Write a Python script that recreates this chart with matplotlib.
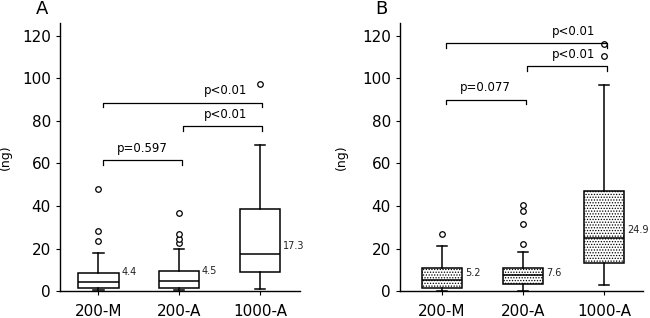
import matplotlib
matplotlib.use("Agg")
import matplotlib.pyplot as plt

plt.rcParams['font.family'] = ['DejaVu Sans']
plt.rcParams['hatch.linewidth'] = 0.6
plt.rcParams['hatch.color'] = '#555555'

groups = ['200-M', '200-A', '1000-A']

# panel A
a_whislo = [0.5, 0.5, 0.8]
a_q1 = [1.4, 1.5, 8.8]
a_med = [4.2, 4.5, 17.2]
a_q3 = [8.5, 9.3, 38.4]
a_whishi = [17.9, 19.7, 68.9]
a_fliers = [[23.6, 28.3, 47.8], [22.5, 24.7, 27.0, 36.5], [97.5]]
a_labels = ['4.4', '4.5', '17.3']

# panel B
b_whislo = [0.0, 0.0, 2.7]
b_q1 = [1.4, 3.5, 13.0]
b_med = [5.4, 7.7, 24.8]
b_q3 = [10.6, 10.6, 47.2]
b_whishi = [21.2, 18.4, 97.1]
b_fliers = [[26.6], [22.0, 31.5, 37.7, 40.4], [110.4, 116.2]]
b_labels = ['5.2', '7.6', '24.9']

a_tests = [('p=0.597', 1, 2), ('p<0.01', 2, 3), ('p<0.01', 1, 3)]
b_tests = [('p=0.077', 1, 2), ('p<0.01', 2, 3), ('p<0.01', 1, 3)]


def panel(ax, whislo, q1, med, q3, whishi, fliers, labels, tests,
          label_y, bracket_y, text_x, hatch, xlim, letter, ylab_x):
    stats = []
    for i in range(3):
        stats.append(dict(whislo=whislo[i], q1=q1[i], med=med[i], q3=q3[i],
                          whishi=whishi[i], fliers=fliers[i]))
    pos = [1, 2, 3]
    ax.bxp(stats, positions=pos, widths=0.5, capwidths=0.13,
           patch_artist=True,
           boxprops=dict(facecolor='white', edgecolor='black', linewidth=1.1,
                         hatch=hatch),
           medianprops=dict(color='black', linewidth=1.1),
           whiskerprops=dict(color='black', linewidth=1.1),
           capprops=dict(color='black', linewidth=1.1),
           flierprops=dict(marker='o', markersize=4, markerfacecolor='white',
                           markeredgecolor='black', markeredgewidth=0.9))
    for i in range(3):
        ax.text(pos[i] + 0.28, label_y[i], labels[i], fontsize=7,
                va='center', ha='left', color='#222222')
    for k, (txt, g1, g2) in enumerate(tests):
        y = bracket_y[k]
        x1 = g1 + 0.05
        x2 = g2 + 0.03
        ax.plot([x1, x1, x2, x2], [y - 2.2, y, y, y - 2.2], color='black', lw=0.9)
        tx = text_x[k] if text_x[k] is not None else (x1 + x2) / 2
        ax.text(tx, y + 2.5, txt, fontsize=8.5, ha='center', va='bottom')
    ax.set_xlim(*xlim)
    ax.set_ylim(0, 126)
    ax.set_yticks([0, 20, 40, 60, 80, 100, 120])
    ax.set_xticks(pos)
    ax.set_xticklabels(groups)
    ax.tick_params(axis='both', labelsize=11, length=3, width=0.8, direction='out')
    ax.tick_params(axis='x', pad=6)
    for s in ['top', 'right']:
        ax.spines[s].set_visible(False)
    for s in ['left', 'bottom']:
        ax.spines[s].set_linewidth(1.0)
    ax.set_ylabel('(ng)', fontsize=9)
    ax.yaxis.set_label_coords(ylab_x, 0.5)
    ax.text(-0.10, 1.02, letter, transform=ax.transAxes, fontsize=13,
            ha='left', va='bottom')


fig = plt.figure(figsize=(6.5, 3.18), dpi=100)
axA = fig.add_axes([0.0923, 0.0849, 0.369, 0.842])
axB = fig.add_axes([0.6154, 0.0849, 0.3738, 0.842])

panel(axA, a_whislo, a_q1, a_med, a_q3, a_whishi, a_fliers, a_labels, a_tests,
      [9.0, 9.5, 21.2], [61.6, 77.7, 88.7], [None, 2.58, 2.58], None,
      (0.523, 3.495), 'A', -0.20)
panel(axB, b_whislo, b_q1, b_med, b_q3, b_whishi, b_fliers, b_labels, b_tests,
      [8.7, 8.7, 28.6], [90.0, 105.7, 116.7], [None, 2.62, 2.62], '......',
      (0.481, 3.48), 'B', -0.214)

fig.savefig('out.png', dpi=100)
